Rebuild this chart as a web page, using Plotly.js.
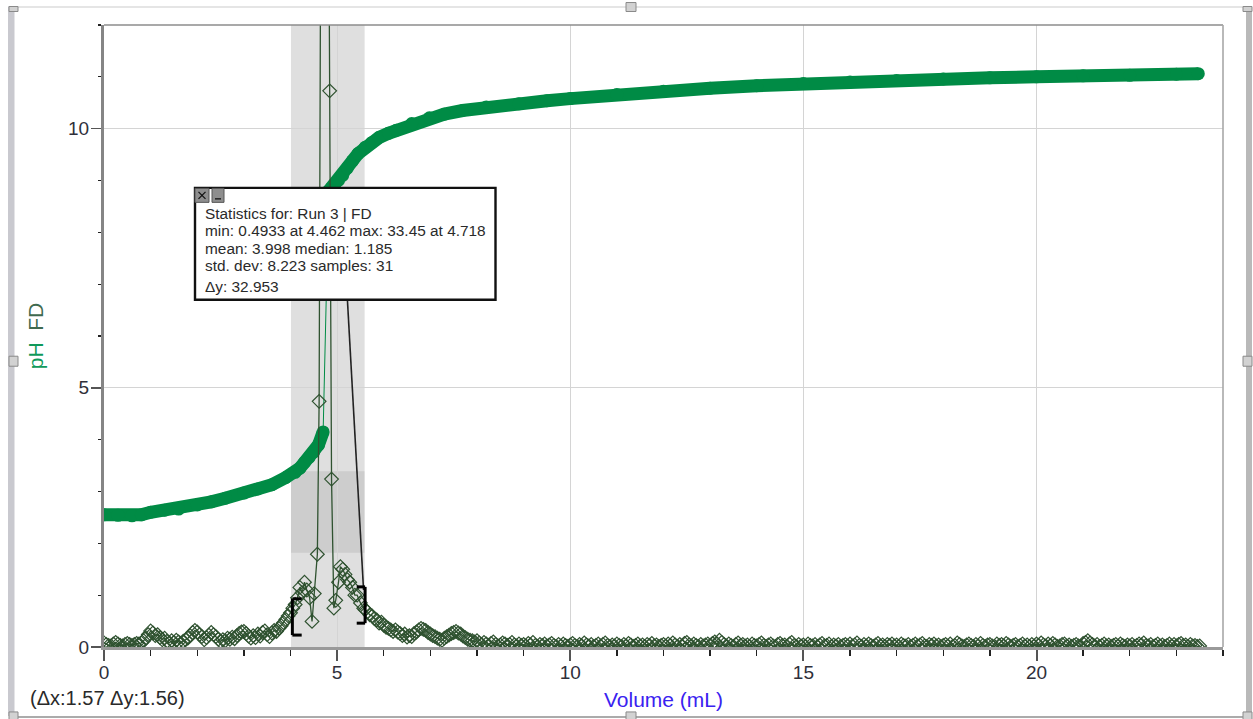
<!DOCTYPE html>
<html>
<head>
<meta charset="utf-8">
<script src="https://cdn.plot.ly/plotly-3.0.1.min.js"></script>
<style>html,body{margin:0;padding:0;background:#fff;overflow:hidden}</style>
</head>
<body>
<div id="chart" style="width:1253px;height:719px"></div>
<script>
const phAcidVolume = [0,0.3,0.6,0.8,1,1.3,1.6,2,2.3,2.6,3,3.3,3.6,3.9,4.1,4.2,4.3,4.4,4.5,4.6,4.7];
const phAcidValue = [2.55,2.54,2.53,2.55,2.6,2.64,2.66,2.74,2.8,2.87,2.97,3.05,3.13,3.27,3.37,3.45,3.56,3.66,3.76,3.9,4.15];
const phBaseVolume = [4.82,4.88,4.95,5.03,5.12,5.22,5.33,5.45,5.6,5.74,5.9,6.1,6.27,6.6,6.98,7.3,7.69,8.2,8.9,9.5,10,11,12,13,14,15,16,17,18,19,20,21,22,23,23.47];
const phBaseValue = [8.8,8.86,8.92,9,9.1,9.24,9.38,9.52,9.64,9.73,9.83,9.91,9.97,10.1,10.21,10.28,10.35,10.42,10.48,10.54,10.58,10.66,10.72,10.78,10.83,10.87,10.9,10.93,10.96,10.98,11,11.02,11.03,11.05,11.06];
const phJumpVolume = [4.7,4.82];
const phJumpValue = [4.15,8.8];
const fdVolume = [
0,0.05,0.1,0.15,0.2,0.25,0.3,0.35,0.4,0.45,0.5,0.55,0.6,0.65,0.7,0.75,0.8,0.85,0.9,0.95,
1,1.05,1.1,1.15,1.2,1.25,1.3,1.35,1.4,1.45,1.5,1.55,1.6,1.65,1.7,1.75,1.8,1.85,1.9,1.95,
2,2.05,2.1,2.15,2.2,2.25,2.3,2.35,2.4,2.45,2.5,2.55,2.6,2.65,2.7,2.75,2.8,2.85,2.9,2.95,
3,3.05,3.1,3.15,3.2,3.25,3.3,3.35,3.4,3.45,3.5,3.55,3.6,3.65,3.7,3.75,3.8,3.85,3.9,3.95,
4,4.05,4.1,4.15,4.2,4.25,4.3,4.35,4.41,4.462,4.51,4.576,4.614,4.718,4.84,4.88,4.93,4.97,5.03,5.07,5.12,5.17,5.22,5.27,5.33,5.38,5.43,5.5,5.57,
5.6,5.65,5.7,5.75,5.8,5.85,5.9,5.95,
6,6.05,6.1,6.15,6.2,6.25,6.3,6.35,6.4,6.45,6.5,6.55,6.6,6.65,6.7,6.75,6.8,6.85,6.9,6.95,
7,7.05,7.1,7.15,7.2,7.25,7.3,7.35,7.4,7.45,7.5,7.55,7.6,7.65,7.7,7.75,7.8,7.85,7.9,7.95,
8,8.05,8.1,8.15,8.2,8.25,8.3,8.35,8.4,8.45,8.5,8.55,8.6,8.65,8.7,8.75,8.8,8.85,8.9,8.95,
9,9.05,9.1,9.15,9.2,9.25,9.3,9.35,9.4,9.45,9.5,9.55,9.6,9.65,9.7,9.75,9.8,9.85,9.9,9.95,
10,10.05,10.1,10.15,10.2,10.25,10.3,10.35,10.4,10.45,10.5,10.55,10.6,10.65,10.7,10.75,10.8,10.85,10.9,10.95,
11,11.05,11.1,11.15,11.2,11.25,11.3,11.35,11.4,11.45,11.5,11.55,11.6,11.65,11.7,11.75,11.8,11.85,11.9,11.95,
12,12.05,12.1,12.15,12.2,12.25,12.3,12.35,12.4,12.45,12.5,12.55,12.6,12.65,12.7,12.75,12.8,12.85,12.9,12.95,
13,13.05,13.1,13.15,13.2,13.25,13.3,13.35,13.4,13.45,13.5,13.55,13.6,13.65,13.7,13.75,13.8,13.85,13.9,13.95,
14,14.05,14.1,14.15,14.2,14.25,14.3,14.35,14.4,14.45,14.5,14.55,14.6,14.65,14.7,14.75,14.8,14.85,14.9,14.95,
15,15.05,15.1,15.15,15.2,15.25,15.3,15.35,15.4,15.45,15.5,15.55,15.6,15.65,15.7,15.75,15.8,15.85,15.9,15.95,
16,16.05,16.1,16.15,16.2,16.25,16.3,16.35,16.4,16.45,16.5,16.55,16.6,16.65,16.7,16.75,16.8,16.85,16.9,16.95,
17,17.05,17.1,17.15,17.2,17.25,17.3,17.35,17.4,17.45,17.5,17.55,17.6,17.65,17.7,17.75,17.8,17.85,17.9,17.95,
18,18.05,18.1,18.15,18.2,18.25,18.3,18.35,18.4,18.45,18.5,18.55,18.6,18.65,18.7,18.75,18.8,18.85,18.9,18.95,
19,19.05,19.1,19.15,19.2,19.25,19.3,19.35,19.4,19.45,19.5,19.55,19.6,19.65,19.7,19.75,19.8,19.85,19.9,19.95,
20,20.05,20.1,20.15,20.2,20.25,20.3,20.35,20.4,20.45,20.5,20.55,20.6,20.65,20.7,20.75,20.8,20.85,20.9,20.95,
21,21.05,21.1,21.15,21.2,21.25,21.3,21.35,21.4,21.45,21.5,21.55,21.6,21.65,21.7,21.75,21.8,21.85,21.9,21.95,
22,22.05,22.1,22.15,22.2,22.25,22.3,22.35,22.4,22.45,22.5,22.55,22.6,22.65,22.7,22.75,22.8,22.85,22.9,22.95,
23,23.05,23.1,23.15,23.2,23.25,23.3,23.35,23.4,23.45,23.5];
const fdValue = [
0.08,0.05,0.03,0.02,0.06,0.09,0.06,0.03,0.02,0.05,0.07,0.05,0.03,0.05,0.07,0.06,0.08,0.12,0.17,0.24,
0.31,0.27,0.22,0.24,0.18,0.14,0.17,0.11,0.08,0.12,0.09,0.13,0.1,0.07,0.11,0.14,0.17,0.22,0.28,0.32,
0.29,0.24,0.2,0.14,0.18,0.23,0.28,0.24,0.2,0.15,0.11,0.14,0.12,0.17,0.15,0.19,0.16,0.22,0.26,0.29,
0.3,0.26,0.21,0.17,0.22,0.18,0.25,0.21,0.28,0.31,0.24,0.2,0.27,0.32,0.3,0.36,0.41,0.47,0.53,0.6,
0.66,0.75,0.82,0.95,1.15,1.05,1.25,1.1,0.95,0.4933,1.03,1.79,4.74,33.45,10.73,3.24,0.75,0.9,1.25,1.55,1.5,1.4,1.3,1.25,1.15,1,1,0.85,0.75,
0.72,0.68,0.62,0.6,0.55,0.52,0.46,0.48,
0.42,0.38,0.36,0.33,0.3,0.33,0.29,0.26,0.22,0.25,0.19,0.22,0.2,0.26,0.29,0.33,0.36,0.34,0.32,0.28,
0.25,0.22,0.2,0.17,0.15,0.13,0.17,0.2,0.23,0.26,0.28,0.3,0.27,0.25,0.21,0.18,0.15,0.13,0.12,0.1,
0.12,0.08,0.05,0.09,0.06,0.03,0.07,0.1,0.05,0.02,0.04,0.08,0.06,0.03,0.05,0.09,0.04,0.02,0.06,0.03,
0.05,0.02,0.07,0.04,0.09,0.03,0.01,0.05,0.03,0.06,0.02,0.04,0.07,0.03,0.01,0.05,0.02,0.06,0.03,0.01,
0.04,0.07,0.03,0.01,0.05,0.02,0.08,0.04,0.02,0.05,0.01,0.03,0.06,0.02,0.05,0.08,0.03,0.01,0.04,0.02,
0.06,0.03,0.01,0.05,0.02,0.07,0.04,0.01,0.03,0.06,0.02,0.04,0.01,0.05,0.03,0.07,0.02,0.04,0.01,0.03,
0.05,0.02,0.06,0.03,0.08,0.04,0.01,0.05,0.02,0.07,0.09,0.04,0.02,0.06,0.03,0.01,0.05,0.02,0.04,0.06,
0.03,0.07,0.1,0.06,0.13,0.09,0.05,0.02,0.06,0.03,0.01,0.05,0.08,0.03,0.05,0.02,0.04,0.01,0.06,0.03,
0.02,0.05,0.08,0.03,0.01,0.04,0.06,0.02,0.01,0.05,0.07,0.03,0.04,0.01,0.06,0.09,0.03,0.01,0.05,0.02,
0.04,0.01,0.06,0.03,0.02,0.05,0.01,0.04,0.07,0.02,0.03,0.06,0.01,0.04,0.02,0.05,0.01,0.03,0.05,0.02,
0.06,0.02,0.04,0.08,0.03,0.01,0.05,0.02,0.06,0.03,0.01,0.04,0.07,0.02,0.04,0.01,0.05,0.03,0.06,0.02,
0.04,0.01,0.06,0.03,0.02,0.05,0.01,0.03,0.06,0.02,0.04,0.07,0.02,0.01,0.05,0.03,0.06,0.02,0.04,0.01,
0.03,0.05,0.02,0.06,0.01,0.03,0.08,0.05,0.02,0.01,0.04,0.06,0.03,0.01,0.05,0.02,0.07,0.03,0.01,0.04,
0.05,0.02,0.01,0.06,0.03,0.05,0.02,0.07,0.04,0.01,0.03,0.05,0.01,0.03,0.06,0.02,0.04,0.01,0.05,0.02,
0.06,0.03,0.08,0.04,0.02,0.06,0.03,0.07,0.04,0.01,0.02,0.05,0.06,0.02,0.04,0.01,0.03,0.05,0.02,0.01,
0.07,0.09,0.12,0.08,0.05,0.02,0.05,0.01,0.03,0.06,0.02,0.04,0.01,0.03,0.05,0.02,0.06,0.03,0.01,0.04,
0.02,0.05,0.01,0.03,0.06,0.04,0.08,0.03,0.02,0.05,0.01,0.03,0.06,0.02,0.04,0.01,0.03,0.06,0.02,0.05,
0.02,0.05,0.07,0.03,0.04,0.01,0.05,0.02,0.03,0.01,0.02];
const tangentVolume = [5.14,5.567];
const tangentValue = [8,1.1];
const statsLines = ["Statistics for: Run 3 | FD","min: 0.4933 at 4.462 max: 33.45 at 4.718","mean: 3.998 median: 1.185","std. dev: 8.223 samples: 31","Δy: 32.953"];
const deltaLabel = "(Δx:1.57 Δy:1.56)";

const W = 1253, H = 719, L = 104, R = 1223, T = 24.5, B = 647;
const px = v => (v - L) / (R - L);
const py = v => (B - v) / (B - T);
const font = "Liberation Sans, Arial, sans-serif";
const GREEN = "#008b45", FD = "#2f5230";

function rect(x0, y0, x1, y1, fill, line, lw, layer) {
  return {type:"rect", xref:"paper", yref:"paper", x0:px(x0), x1:px(x1), y0:py(y0), y1:py(y1),
    fillcolor:fill, line:{color:line||fill, width:lw===undefined?0:lw}, layer:layer||"above"};
}
function seg(x0, y0, x1, y1, color, w) {
  return {type:"line", xref:"paper", yref:"paper", x0:px(x0), x1:px(x1), y0:py(y0), y1:py(y1),
    line:{color:color, width:w}, layer:"above"};
}
function dataSeg(x0, y0, x1, y1) {
  return {type:"line", xref:"x", yref:"y", x0, x1, y0, y1, line:{color:"#000", width:3}, layer:"above"};
}

const shapes = [
  {type:"rect", xref:"x", yref:"paper", x0:4.01, x1:5.59, y0:0, y1:1, fillcolor:"rgba(0,0,0,0.125)", line:{width:0}, layer:"below"},
  {type:"rect", xref:"x", yref:"y", x0:4.01, x1:5.59, y0:1.82, y1:3.39, fillcolor:"rgba(0,0,0,0.08)", line:{width:0}, layer:"below"},
  dataSeg(4.04,0.23,4.04,0.93), dataSeg(4.04,0.23,4.24,0.23), dataSeg(4.04,0.93,4.24,0.93),
  dataSeg(5.6,0.46,5.6,1.16), dataSeg(5.6,0.46,5.42,0.46), dataSeg(5.6,1.16,5.42,1.16),
  seg(L,T,R,T,"#8c8c8c",1.6), seg(R,T,R,B,"#a8a8a8",1.6),
  // window frame
  seg(14,6.5,1246,6.5,"#dcdcdc",1.5), seg(14,717,1246,717,"#8f8f8f",1.5),
  rect(8,6,14.5,716,"#c9c9cf"), rect(1246,6,1252,716,"#b9b9b9"),
  rect(9,6,18,11,"#d2d2d2","#8a8a8a",1), rect(1243,6,1252,11,"#d2d2d2","#8a8a8a",1),
  rect(9,356,18,366,"#d2d2d2","#8a8a8a",1), rect(1243,356,1252,366,"#d2d2d2","#8a8a8a",1),
  rect(626,2,636,11,"#d2d2d2","#8a8a8a",1), rect(626,712,636,721,"#d2d2d2","#8a8a8a",1),
  rect(9,712,18,721,"#d2d2d2","#8a8a8a",1), rect(1243,712,1252,721,"#d2d2d2","#8a8a8a",1),
  // statistics box
  rect(195,187.5,495.5,299.5,"#ffffff","#111111",2.4),
  rect(195,188,209,202,"#8e8e8e","#555",1), rect(212,188,224,202,"#8e8e8e","#555",1),
  seg(198.5,191.5,205.5,198.5,"#111",1.3), seg(205.5,191.5,198.5,198.5,"#111",1.3),
  seg(215,198.5,221,198.5,"#111",1.3)
];

const statTop = [213.5,230.5,248.5,265.5,286.5];
const annotations = statsLines.map((s,i)=>({
  xref:"paper", yref:"paper", x:px(203), y:py(statTop[i]), xanchor:"left", yanchor:"middle",
  text:s, showarrow:false, align:"left", font:{family:font, size:15.4, color:"#2a2a2a"}
}));
annotations.push({xref:"paper", yref:"paper", x:px(28), y:py(698), xanchor:"left", yanchor:"middle",
  text:deltaLabel, showarrow:false, font:{family:font, size:20, color:"#2a2a2a"}});

const traces = [
  {x:phAcidVolume, y:phAcidValue, type:"scatter", mode:"lines+markers", name:"pH",
   line:{color:GREEN, width:13}, marker:{color:GREEN, size:13}},
  {x:phBaseVolume, y:phBaseValue, type:"scatter", mode:"lines+markers", name:"pH",
   line:{color:GREEN, width:13}, marker:{color:GREEN, size:13}},
  {x:phJumpVolume, y:phJumpValue, type:"scatter", mode:"lines", name:"pH",
   line:{color:GREEN, width:1}},
  {x:tangentVolume, y:tangentValue, type:"scatter", mode:"lines", name:"selection",
   line:{color:"#222", width:1.6}},
  {x:fdVolume, y:fdValue, type:"scatter", mode:"lines+markers", name:"FD",
   line:{color:FD, width:1.3}, marker:{symbol:"diamond-open", size:10.5, color:FD, line:{width:1.2, color:FD}}}
];

const tickFont = {family:font, size:19, color:"#2f2f3a"};
const layout = {
  width:W, height:H, autosize:false, showlegend:false, paper_bgcolor:"#fff", plot_bgcolor:"#fff",
  margin:{l:L, r:W-R, t:T, b:H-B, pad:0},
  font:{family:font},
  xaxis:{range:[0,24], tick0:0, dtick:5, showgrid:true, gridcolor:"#d4d4d4", gridwidth:1, zeroline:false,
    showline:true, linecolor:"#9a9a9a", linewidth:3, ticks:"outside", ticklen:11, tickwidth:2, tickcolor:"#555",
    tickfont:tickFont, ticklabelstandoff:-5,
    minor:{dtick:1, ticks:"outside", ticklen:6, tickwidth:1.3, tickcolor:"#222", showgrid:false},
    title:{text:"Volume (mL)", font:{family:font, size:21, color:"#3a22f0"}, standoff:11}},
  yaxis:{range:[0,12], tick0:0, dtick:5, showgrid:true, gridcolor:"#d4d4d4", gridwidth:1, zeroline:false,
    showline:true, linecolor:"#858585", linewidth:3, ticks:"outside", ticklen:10, tickwidth:1.5, tickcolor:"#555",
    tickfont:tickFont, ticklabelstandoff:-2,
    minor:{dtick:1, ticks:"outside", ticklen:3, tickwidth:1.2, tickcolor:"#222", showgrid:false},
    title:{text:'<span style="fill:#0f9a5a">pH</span>\u00a0\u00a0<span style="fill:#3f6a4f">FD</span>\u00a0\u00a0\u00a0\u00a0\u00a0\u00a0', font:{family:font, size:21, color:"#0f9a5a"}, standoff:19}},
  shapes, annotations
};
Plotly.newPlot("chart", traces, layout, {displayModeBar:false, staticPlot:true});
</script>
</body>
</html>
